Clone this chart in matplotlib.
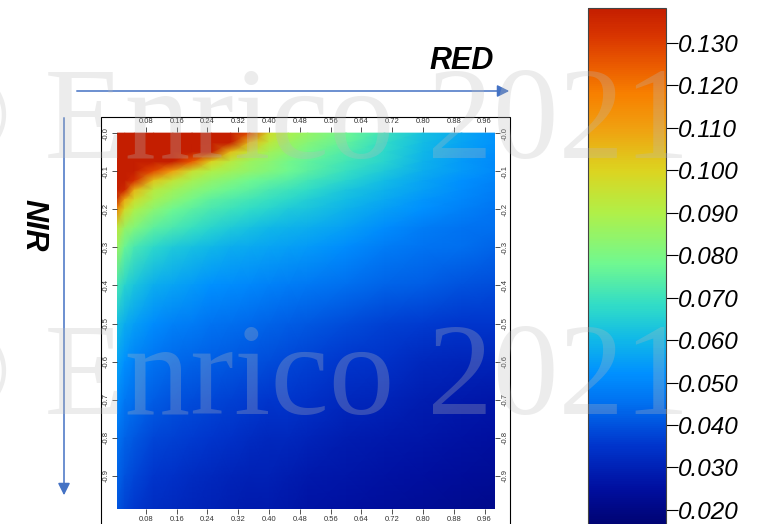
import numpy as np
import matplotlib.pyplot as plt
from matplotlib.colors import LinearSegmentedColormap, Normalize
from matplotlib.patches import Rectangle

# grid: RED along x, NIR downwards
red = [0.0, 0.025, 0.05, 0.1, 0.15, 0.2, 0.25, 0.3, 0.35, 0.4, 0.45, 0.5, 0.6, 0.7, 0.8, 0.9, 1.0]
nir = [0.0, 0.025, 0.05, 0.075, 0.1, 0.125, 0.15, 0.175, 0.2, 0.25, 0.3,
       0.4, 0.5, 0.6, 0.7, 0.8, 0.9, 1.0]
values = [
    [0.150, 0.150, 0.150, 0.150, 0.150, 0.150, 0.150, 0.150, 0.128, 0.097, 0.089, 0.085, 0.078, 0.070, 0.062, 0.057, 0.052],
    [0.150, 0.150, 0.150, 0.150, 0.150, 0.150, 0.150, 0.138, 0.105, 0.093, 0.086, 0.082, 0.076, 0.068, 0.061, 0.056, 0.052],
    [0.150, 0.150, 0.150, 0.150, 0.150, 0.150, 0.137, 0.104, 0.094, 0.087, 0.083, 0.079, 0.073, 0.067, 0.060, 0.055, 0.051],
    [0.150, 0.150, 0.150, 0.150, 0.150, 0.125, 0.100, 0.092, 0.086, 0.083, 0.079, 0.076, 0.071, 0.066, 0.059, 0.054, 0.050],
    [0.150, 0.150, 0.150, 0.128, 0.110, 0.096, 0.090, 0.087, 0.084, 0.081, 0.078, 0.075, 0.069, 0.064, 0.058, 0.054, 0.050],
    [0.150, 0.150, 0.133, 0.103, 0.094, 0.088, 0.084, 0.081, 0.078, 0.076, 0.074, 0.071, 0.066, 0.061, 0.056, 0.052, 0.049],
    [0.150, 0.135, 0.106, 0.092, 0.087, 0.083, 0.080, 0.077, 0.075, 0.072, 0.070, 0.068, 0.063, 0.059, 0.055, 0.051, 0.048],
    [0.142, 0.108, 0.097, 0.088, 0.083, 0.079, 0.075, 0.073, 0.071, 0.069, 0.067, 0.065, 0.061, 0.057, 0.053, 0.050, 0.047],
    [0.120, 0.098, 0.090, 0.083, 0.078, 0.075, 0.072, 0.070, 0.068, 0.066, 0.064, 0.063, 0.059, 0.055, 0.052, 0.049, 0.046],
    [0.095, 0.085, 0.081, 0.075, 0.072, 0.069, 0.066, 0.064, 0.062, 0.060, 0.059, 0.058, 0.055, 0.051, 0.048, 0.046, 0.045],
    [0.088, 0.077, 0.072, 0.067, 0.064, 0.062, 0.060, 0.058, 0.057, 0.056, 0.055, 0.054, 0.051, 0.048, 0.046, 0.045, 0.043],
    [0.073, 0.066, 0.063, 0.058, 0.056, 0.054, 0.052, 0.051, 0.050, 0.049, 0.048, 0.047, 0.045, 0.043, 0.042, 0.040, 0.039],
    [0.063, 0.058, 0.055, 0.051, 0.049, 0.048, 0.046, 0.045, 0.044, 0.043, 0.042, 0.041, 0.039, 0.037, 0.036, 0.035, 0.035],
    [0.057, 0.052, 0.049, 0.046, 0.044, 0.043, 0.042, 0.041, 0.040, 0.039, 0.038, 0.037, 0.035, 0.034, 0.032, 0.031, 0.031],
    [0.052, 0.047, 0.045, 0.042, 0.040, 0.039, 0.038, 0.037, 0.036, 0.035, 0.035, 0.034, 0.032, 0.031, 0.029, 0.028, 0.027],
    [0.047, 0.043, 0.041, 0.038, 0.037, 0.036, 0.035, 0.034, 0.033, 0.032, 0.032, 0.031, 0.029, 0.028, 0.027, 0.026, 0.025],
    [0.044, 0.040, 0.038, 0.035, 0.034, 0.033, 0.032, 0.031, 0.030, 0.030, 0.029, 0.028, 0.027, 0.026, 0.025, 0.024, 0.023],
    [0.041, 0.037, 0.035, 0.033, 0.032, 0.031, 0.030, 0.029, 0.028, 0.028, 0.027, 0.026, 0.025, 0.024, 0.023, 0.022, 0.021],
]

x_ticks = [0.08, 0.16, 0.24, 0.32, 0.40, 0.48, 0.56, 0.64, 0.72, 0.80, 0.88, 0.96]
y_ticks = [0.0, -0.1, -0.2, -0.3, -0.4, -0.5, -0.6, -0.7, -0.8, -0.9]
y_labels = ["-0.0", "-0.1", "-0.2", "-0.3", "-0.4", "-0.5", "-0.6", "-0.7", "-0.8", "-0.9"]
cbar_ticks = [0.02, 0.03, 0.04, 0.05, 0.06, 0.07, 0.08, 0.09, 0.10, 0.11, 0.12, 0.13]

vmin, vmax = 0.0141, 0.1382
anchors = [
    (0.0141, "#000066"), (0.025, "#000fa0"), (0.035, "#0035cc"), (0.045, "#0070f0"),
    (0.052, "#0090ff"), (0.060, "#10b8e8"), (0.068, "#30dcc8"), (0.078, "#70f890"),
    (0.090, "#b0f048"), (0.100, "#dcd420"), (0.110, "#f0a010"), (0.118, "#f78000"),
    (0.125, "#ea5a00"), (0.132, "#d83400"), (0.1382, "#c41e00"),
]
cmap = LinearSegmentedColormap.from_list(
    "ndvi", [((v - vmin) / (vmax - vmin), c) for v, c in anchors])
cmap.set_over("#c41e00")
cmap.set_under("#000066")
norm = Normalize(vmin=vmin, vmax=vmax)

W, H = 761, 524
fig = plt.figure(figsize=(W / 100, H / 100), dpi=100)
arrow_blue = "#4472c4"
label_font = ["Liberation Sans", "DejaVu Sans"]

# outer frame around the map
fig.patches.append(Rectangle((101 / W, -0.05), (510 - 101) / W, (524 - 117) / H + 0.05,
                             transform=fig.transFigure, fill=False, ec="black", lw=0.8))

ax = fig.add_axes([117 / W, 1 - 509 / H, 378 / W, 377 / H])
X, Y = np.meshgrid(red, -np.array(nir))
ax.pcolormesh(X, Y, np.array(values), shading="gouraud", cmap=cmap, norm=norm)
ax.set_xlim(0.005, 0.987)
ax.set_ylim(-0.987, 0.003)
ax.set_xticks(x_ticks)
ax.set_xticklabels([f"{t:.2f}" for t in x_ticks])
ax.set_yticks(y_ticks)
ax.set_yticklabels(y_labels)
ax.tick_params(top=True, labeltop=True, right=True, labelright=True, direction="out",
               length=3.5, width=0.6, labelsize=5.5, colors="#333333", pad=1.5)
for t in ax.yaxis.get_major_ticks():
    for lab in (t.label1, t.label2):
        lab.set_rotation(90)
        lab.set_va("center")
        lab.set_family(label_font)
for t in ax.xaxis.get_major_ticks():
    t.label1.set_family(label_font)
    t.label2.set_family(label_font)
for s in ax.spines.values():
    s.set_visible(False)

# colour bar on the right
cax = fig.add_axes([588 / W, 1 - 535 / H, 78 / W, (535 - 8) / H])
cb = fig.colorbar(plt.cm.ScalarMappable(norm=norm, cmap=cmap), cax=cax)
cb.set_ticks(cbar_ticks)
cb.set_ticklabels([f"{t:.3f}" for t in cbar_ticks])
cb.outline.set_edgecolor("#444444")
cb.outline.set_linewidth(0.8)
cax.tick_params(length=8.5, width=0.8, pad=0, colors="black")
for lab in cax.get_yticklabels():
    lab.set_fontsize(17.5)
    lab.set_fontstyle("italic")
    lab.set_family(label_font)

# axis arrows and names
ax.annotate("", xy=(512, H - 91), xytext=(74, H - 91), xycoords="figure pixels",
            textcoords="figure pixels",
            arrowprops=dict(arrowstyle="-|>", color=arrow_blue, lw=1.1, mutation_scale=18))
ax.annotate("", xy=(64, H - 498), xytext=(64, H - 115), xycoords="figure pixels",
            textcoords="figure pixels",
            arrowprops=dict(arrowstyle="-|>", color=arrow_blue, lw=1.1, mutation_scale=18))
fig.text(462 / W, 1 - 61 / H, "RED", ha="center", va="center", fontsize=22,
         fontweight="bold", fontstyle="italic", family=label_font)
fig.text(33 / W, 1 - 225 / H, "NIR", ha="center", va="center", fontsize=22,
         fontweight="bold", fontstyle="italic", rotation=-90, family=label_font)

# watermark
for base in (158, 414):
    fig.text(690 / W, 1 - base / H, "\u00a9 Enrico 2021", ha="right", va="baseline",
             fontsize=94.5, color="#bbbbbb", alpha=0.28, zorder=10,
             family=["Liberation Serif", "DejaVu Serif"])

fig.savefig("out.png", dpi=100)
